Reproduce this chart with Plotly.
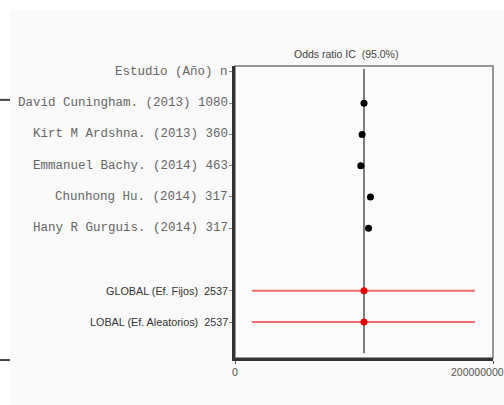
import plotly.graph_objects as go

# Study rows (row index counts down from the header)
header_label = "Estudio (Año) n"
study_labels = [
    "David Cuningham. (2013) 1080",
    "Kirt M Ardshna. (2013) 360",
    "Emmanuel Bachy. (2014) 463",
    "Chunhong Hu. (2014) 317",
    "Hany R Gurguis. (2014) 317",
]
study_rows = [1, 2, 3, 4, 5]
study_or = [1.00e8, 0.985e8, 0.975e8, 1.05e8, 1.035e8]

# Pooled estimates
summary_labels = ["GLOBAL (Ef. Fijos)  2537", "LOBAL (Ef. Aleatorios)  2537"]
summary_rows = [7, 8]
summary_or = [1.00e8, 1.00e8]
summary_low = [1.3e7, 1.3e7]
summary_high = [1.86e8, 1.86e8]

null_line = 1.0e8
x_ticks = [0, 2e8]
x_tick_labels = ["0", "200000000"]
title_text = "Odds ratio IC  (95.0%)"

fig = go.Figure()

# confidence intervals of the pooled estimates
for r, lo, hi in zip(summary_rows, summary_low, summary_high):
    fig.add_trace(go.Scatter(x=[lo, hi], y=[r, r], mode="lines",
                             line=dict(color="#ef6f6f", width=2),
                             hoverinfo="skip", showlegend=False))

fig.add_trace(go.Scatter(x=study_or, y=study_rows, mode="markers",
                         marker=dict(color="black", size=7),
                         showlegend=False))
fig.add_trace(go.Scatter(x=summary_or, y=summary_rows, mode="markers",
                         marker=dict(color="#e00000", size=7),
                         showlegend=False))

shapes = [
    # light page edge strips
    dict(type="rect", xref="paper", yref="paper", x0=-0.92, x1=-0.872,
         y0=-0.2, y1=1.25, fillcolor="white", line_width=0, layer="below"),
    dict(type="rect", xref="paper", yref="paper", x0=-0.92, x1=1.1,
         y0=1.192, y1=1.25, fillcolor="white", line_width=0, layer="below"),
    dict(type="line", xref="paper", yref="paper", x0=-0.92, x1=-0.872,
         y0=0.884, y1=0.884, line=dict(color="#444", width=2)),
    dict(type="line", xref="paper", yref="paper", x0=-0.92, x1=-0.872,
         y0=-0.007, y1=-0.007, line=dict(color="#444", width=2)),
    # plot frame (top/right lighter)
    dict(type="rect", xref="paper", yref="paper", x0=0, x1=1, y0=0, y1=1,
         line=dict(color="#777", width=1.5), layer="below"),
    # line of no effect
    dict(type="line", xref="x", yref="y", x0=null_line, x1=null_line,
         y0=-0.1, y1=9.0, line=dict(color="#555", width=1.5), layer="below"),
]

annotations = []
mono = dict(family="Liberation Mono, Courier New, monospace", size=12.5, color="#666")
sans = dict(family="Liberation Sans, Arial, sans-serif", size=10.8, color="#333")

annotations.append(dict(x=0, xref="paper", y=0, yref="y", text=header_label,
                        xanchor="right", yanchor="middle", xshift=-5,
                        showarrow=False, font=mono))
for lab, r in zip(study_labels, study_rows):
    annotations.append(dict(x=0, xref="paper", y=r, yref="y", text=lab,
                            xanchor="right", yanchor="middle", xshift=-5,
                            showarrow=False, font=mono))
for lab, r in zip(summary_labels, summary_rows):
    annotations.append(dict(x=0, xref="paper", y=r, yref="y", text=lab,
                            xanchor="right", yanchor="middle", xshift=-5,
                            showarrow=False, font=sans))

# x tick labels
tick_font = dict(family="Liberation Sans, Arial", size=10.5, color="#555")
annotations.append(dict(x=x_ticks[0], xref="x", y=0, yref="paper",
                        text=x_tick_labels[0], xanchor="center", yanchor="top",
                        yshift=-6, showarrow=False, font=tick_font))
annotations.append(dict(x=x_ticks[1], xref="x", y=0, yref="paper",
                        text=x_tick_labels[1], xanchor="left", yanchor="top",
                        xshift=-44, yshift=-6, showarrow=False, font=tick_font))

annotations.append(dict(x=null_line, xref="x", y=1, yref="paper", text=title_text,
                        xanchor="center", yanchor="bottom", xshift=-18, yshift=4,
                        showarrow=False,
                        font=dict(family="Liberation Sans, Arial", size=10.5, color="#444")))

fig.update_layout(
    width=504, height=405,
    margin=dict(l=235, r=11, t=66, b=47),
    paper_bgcolor="#fafafa", plot_bgcolor="#fcfcfc",
    shapes=shapes, annotations=annotations,
    xaxis=dict(range=[0, 2e8], showgrid=False, zeroline=False,
               tickvals=x_ticks, ticktext=["", ""], ticks="outside",
               ticklen=3, tickcolor="#555", showline=True,
               linecolor="#333", linewidth=2.5),
    yaxis=dict(range=[9.15, -0.19], showgrid=False, zeroline=False,
               tickvals=[0] + study_rows + summary_rows,
               ticktext=[""] * (1 + len(study_rows) + len(summary_rows)),
               ticks="outside", ticklen=3, tickcolor="#888",
               showline=True, linecolor="#333", linewidth=2.5),
)

fig.write_html("out.html")
